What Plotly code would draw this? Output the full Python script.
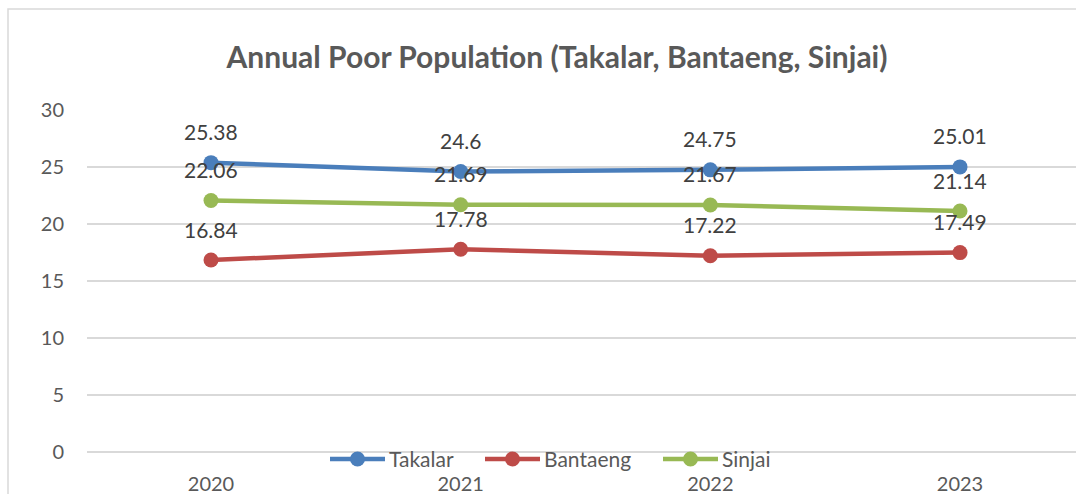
import plotly.graph_objects as go

years = ["2020", "2021", "2022", "2023"]
takalar = [25.38, 24.6, 24.75, 25.01]
bantaeng = [16.84, 17.78, 17.22, 17.49]
sinjai = [22.06, 21.69, 21.67, 21.14]
series = [("Takalar", takalar, "#4A7EBB"), ("Bantaeng", bantaeng, "#BE4B48"), ("Sinjai", sinjai, "#98B954")]
y_ticks = [0, 5, 10, 15, 20, 25, 30]

FONT = "Lato"
TXT = "#595959"

W, H = 1076, 494
ml, mr, mt, mb = 87, 0, 110, 42
pw, ph = W - ml - mr, H - mt - mb


def px_x(p):
    return (p - ml) / pw


def px_y(p):
    return 1 - (p - mt) / ph


# legend entry left pixel positions (line start)
legend_x = [330, 485, 663]
legend_y = 459

fig = go.Figure()
annotations = []
shapes = [dict(type="rect", xref="paper", yref="paper",
               x0=px_x(8), x1=1.05, y0=-0.5, y1=px_y(9),
               line=dict(color="#D9D9D9", width=1.5), fillcolor="rgba(0,0,0,0)", layer="below")]
for (name, vals, col), lx in zip(series, legend_x):
    fig.add_trace(go.Scatter(
        x=years, y=vals, name=name, mode="lines+markers",
        line=dict(color=col, width=4.5),
        marker=dict(color=col, size=15),
        showlegend=False,
    ))
    for i, v in enumerate(vals):
        annotations.append(dict(
            x=i, y=v, xref="x", yref="y", text=str(v), showarrow=False, yshift=31,
            font=dict(family=FONT, size=21, color="#404040"),
        ))
    # custom legend entry
    shapes.append(dict(type="line", xref="paper", yref="paper",
                       x0=px_x(lx), x1=px_x(lx + 55), y0=px_y(legend_y), y1=px_y(legend_y),
                       line=dict(color=col, width=4.5)))
    shapes.append(dict(type="circle", xref="paper", yref="paper",
                       xsizemode="pixel", ysizemode="pixel",
                       xanchor=px_x(lx + 27.5), yanchor=px_y(legend_y),
                       x0=-7.5, x1=7.5, y0=-7.5, y1=7.5,
                       line=dict(color=col, width=0), fillcolor=col))
    annotations.append(dict(xref="paper", yref="paper", x=px_x(lx + 57), y=px_y(legend_y),
                            xanchor="left", yanchor="middle", text=name, showarrow=False,
                            font=dict(family=FONT, size=21, color=TXT)))

fig.update_layout(
    width=W, height=H,
    margin=dict(l=ml, r=mr, t=mt, b=mb),
    paper_bgcolor="white", plot_bgcolor="white",
    title=dict(text="<b>Annual Poor Population (Takalar, Bantaeng, Sinjai)</b>",
               x=557 / W, xanchor="center", y=1 - 57 / H, yanchor="middle",
               font=dict(family=FONT, size=30, color=TXT)),
    font=dict(family=FONT, size=20, color=TXT),
    showlegend=False,
    annotations=annotations,
    shapes=shapes,
    xaxis=dict(type="category", range=[-(211 - ml) / 249.67, 3 + (W - 960) / 249.67],
               showgrid=False, showline=False, zeroline=False, ticks="", ticklabelstandoff=18,
               tickfont=dict(family=FONT, size=20, color=TXT), fixedrange=True),
    yaxis=dict(range=[0, 30], tickvals=y_ticks, showgrid=True, gridcolor="#D9D9D9",
               gridwidth=1.5, zeroline=True, zerolinecolor="#D9D9D9", zerolinewidth=1.5,
               showline=False, ticks="", ticklabelstandoff=22,
               tickfont=dict(family=FONT, size=20, color=TXT)),
)

fig.write_html("out.html", config={"displayModeBar": False},
               post_script="document.body.style.margin='0';document.body.style.overflow='hidden';")
